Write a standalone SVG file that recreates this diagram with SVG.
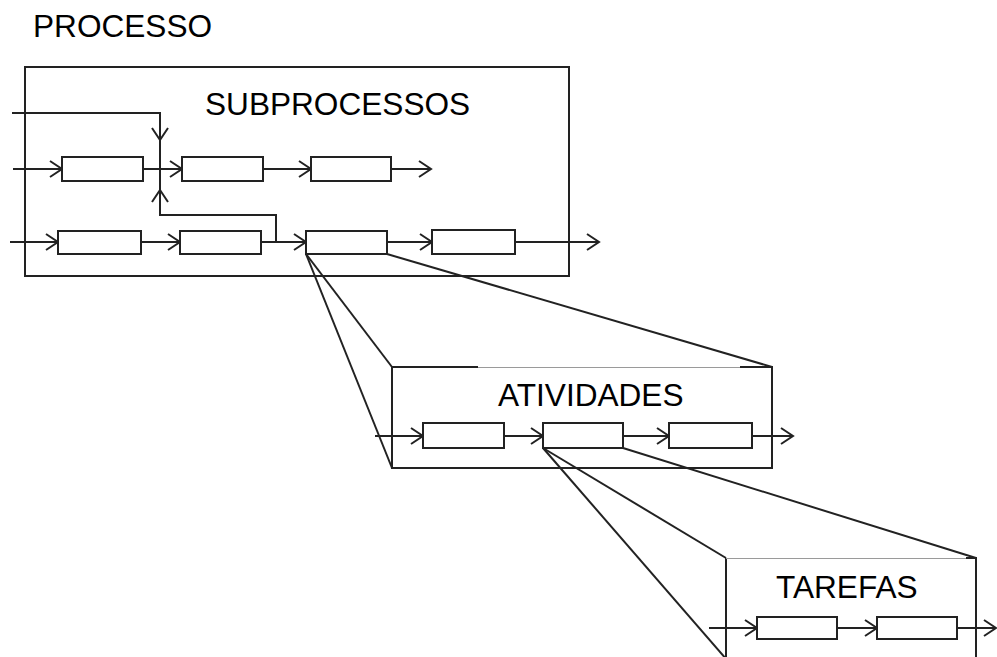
<svg xmlns="http://www.w3.org/2000/svg" width="997" height="657" viewBox="0 0 997 657">
<defs>
<style>
.t{font-family:"Liberation Sans",Arial,sans-serif;font-size:31.6px;fill:#000}
.frame{fill:none;stroke:#222;stroke-width:2}
.box{fill:#fff;stroke:#222;stroke-width:2}
.ln{fill:none;stroke:#222;stroke-width:2}
.arr{fill:none;stroke:#222;stroke-width:2;marker-end:url(#ah)}
.thin{stroke:#9a9a9a;stroke-width:1;fill:none}
</style>
<marker id="ah" viewBox="-14 -10 16 20" markerWidth="16" markerHeight="20" refX="0" refY="0" orient="auto" markerUnits="userSpaceOnUse">
<path d="M-12,-8 L0,0 L-12,8" fill="none" stroke="#222" stroke-width="2"/>
</marker>
</defs>
<rect width="997" height="657" fill="#fff"/>
<text class="t" x="33" y="37">PROCESSO</text>

<g id="zoom-lines">
<path class="ln" d="M306,254 L392,367"/>
<path class="ln" d="M306,254 L392,468"/>
<path class="ln" d="M387,254 L772,367"/>
<path class="ln" d="M543,448 L726,558"/>
<path class="ln" d="M543,448 L727,660"/>
<path class="ln" d="M623,448 L976,558"/>
</g>

<g id="subprocessos">
<rect class="frame" x="25" y="67" width="544" height="209"/>
<text class="t" x="205" y="115">SUBPROCESSOS</text>
</g>

<g id="atividades">
<path class="frame" d="M478,367 L392,367 L392,468 L772,468 L772,367 L740,367"/>
<path class="thin" d="M478,367.5 L740,367.5"/>
<text class="t" x="498" y="406">ATIVIDADES</text>
</g>

<g id="tarefas">
<path class="frame" d="M726,660 L726,558 M976,660 L976,558 L966,558"/>
<path class="thin" d="M726,558.5 L966,558.5"/>
<text class="t" x="776" y="598">TAREFAS</text>
</g>

<g id="connectors">
<path class="arr" d="M13,169 L62,169"/>
<path class="arr" d="M143,169 L182,169"/>
<path class="arr" d="M263,169 L311,169"/>
<path class="arr" d="M391,169 L431,169"/>
<path class="arr" d="M10,242 L58,242"/>
<path class="arr" d="M141,242 L180,242"/>
<path class="arr" d="M261,242 L306,242"/>
<path class="arr" d="M387,242 L432,242"/>
<path class="arr" d="M515,242 L599,242"/>
<path class="arr" d="M12,113 L160,113 L160,140"/>
<path class="ln" d="M160,140 L160,190"/>
<path class="arr" d="M276,242 L276,215 L160,215 L160,190"/>
<path class="arr" d="M375,436 L423,436"/>
<path class="arr" d="M504,436 L543,436"/>
<path class="arr" d="M623,436 L669,436"/>
<path class="arr" d="M752,436 L793,436"/>
<path class="arr" d="M709,628 L757,628"/>
<path class="arr" d="M837,628 L877,628"/>
<path class="arr" d="M957,628 L996,628"/>
</g>

<g id="sub-boxes">
<rect class="box" x="62" y="157" width="81" height="24"/>
<rect class="box" x="182" y="157" width="81" height="24"/>
<rect class="box" x="311" y="157" width="80" height="24"/>
<rect class="box" x="58" y="231" width="83" height="23"/>
<rect class="box" x="180" y="231" width="81" height="23"/>
<rect class="box" x="306" y="231" width="81" height="23"/>
<rect class="box" x="432" y="230" width="83" height="24"/>
</g>
<g id="act-boxes">
<rect class="box" x="423" y="423" width="81" height="25"/>
<rect class="box" x="543" y="423" width="80" height="25"/>
<rect class="box" x="669" y="423" width="83" height="25"/>
</g>
<g id="task-boxes">
<rect class="box" x="757" y="617" width="80" height="22"/>
<rect class="box" x="877" y="617" width="80" height="22"/>
</g>
</svg>
